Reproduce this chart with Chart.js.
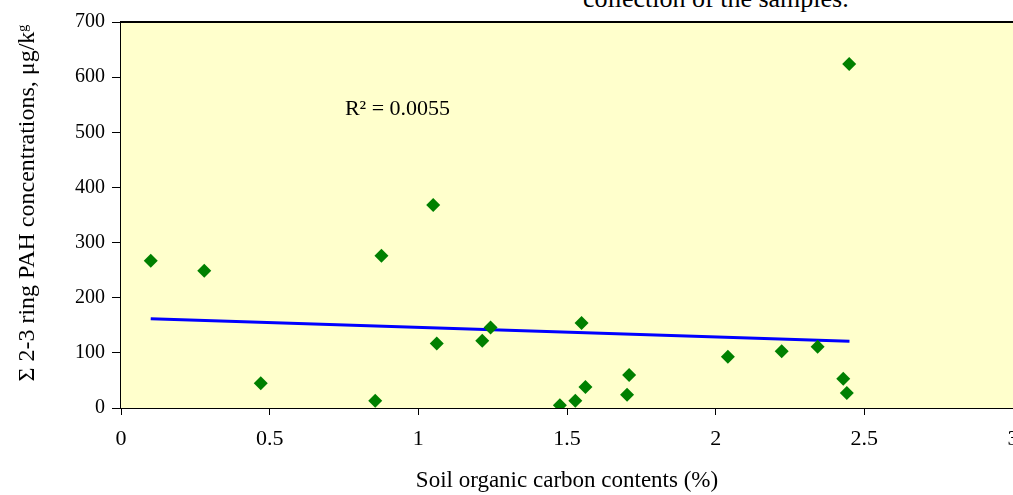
<!DOCTYPE html>
<html>
<head>
<meta charset="utf-8">
<script src="https://cdn.jsdelivr.net/npm/chart.js@4"></script>
<style>
  html, body { margin: 0; padding: 0; overflow: hidden; background: #fff; width: 1013px; height: 495px; }
  #wrap { position: relative; width: 1013px; height: 495px; overflow: hidden; }
  #cut { position: absolute; left: 583px; top: -16px; font: 26px "Liberation Serif", serif; color: #000; white-space: nowrap; }
  canvas { position: absolute; left: 0; top: 0; }
</style>
</head>
<body>
<div id="wrap">
  <div id="cut">collection of the samples.</div>
  <canvas id="pahChart" width="1060" height="495"></canvas>
</div>
<script>
// soil organic carbon (%) vs sum of 2-3 ring PAH (ug/kg)
var carbon = [0.10, 0.28, 0.47, 0.855, 0.876, 1.05, 1.062, 1.215, 1.243, 1.476, 1.528, 1.549, 1.562, 1.702, 1.709, 2.041, 2.222, 2.343, 2.429, 2.441, 2.449];
var pah    = [267, 249, 45, 13, 276, 368, 117, 122, 146, 5, 13, 154, 38, 24, 60, 93, 103, 111, 53, 27, 624];

// linear trend line end points
var trendX = [0.10, 2.45];
var trendY = [162, 121];
var rSquared = 'R\u00B2 = 0.0055';

var xTicks = [0, 0.5, 1, 1.5, 2, 2.5, 3];
var yTicks = [0, 100, 200, 300, 400, 500, 600, 700];

var serif = '"Liberation Serif", "Times New Roman", serif';

var scatterPts = carbon.map(function (c, i) { return { x: c, y: pah[i] }; });
var trendPts = trendX.map(function (t, i) { return { x: t, y: trendY[i] }; });

// yellow plot area, top border and the R2 label
var plotDeco = {
    id: 'plotDeco',
    beforeDatasetsDraw: function (chart) {
        var c = chart.ctx, a = chart.chartArea;
        c.save();
        c.fillStyle = '#FFFFCC';
        c.fillRect(a.left, a.top, a.right - a.left, a.bottom - a.top);
        c.strokeStyle = '#000';
        c.lineWidth = 2;
        c.beginPath();
        c.moveTo(a.left, a.top);
        c.lineTo(a.right, a.top);
        c.stroke();
        c.restore();
    },
    afterDatasetsDraw: function (chart) {
        var c = chart.ctx;
        var px = chart.scales.x.getPixelForValue(0.93);
        var py = chart.scales.y.getPixelForValue(531);
        c.save();
        c.fillStyle = '#000';
        c.font = '22px ' + serif;
        c.textAlign = 'center';
        c.textBaseline = 'alphabetic';
        c.fillText(rSquared, px, py);
        c.restore();
    }
};

var ctx = document.getElementById('pahChart').getContext('2d');
var pahChart = new Chart(ctx, {
    type: 'scatter',
    data: {
        datasets: [{
            label: 'samples',
            data: scatterPts,
            pointStyle: 'rectRot',
            pointRadius: 7,
            pointHoverRadius: 7,
            backgroundColor: '#008000',
            borderColor: '#008000',
            borderWidth: 0,
            order: 1
        }, {
            type: 'line',
            label: 'trend',
            data: trendPts,
            borderColor: '#0000FF',
            borderWidth: 3,
            pointRadius: 0,
            fill: false,
            order: 2
        }]
    },
    plugins: [plotDeco],
    options: {
        responsive: false,
        animation: false,
        layout: { padding: { top: 22, right: 47, left: 0, bottom: 0 } },
        plugins: {
            legend: { display: false },
            tooltip: { enabled: false }
        },
        scales: {
            x: {
                type: 'linear',
                min: 0,
                max: 3,
                afterBuildTicks: function (s) {
                    s.ticks = xTicks.map(function (v) { return { value: v }; });
                },
                afterFit: function (s) { s.height = 87; },
                border: { display: true, color: '#000', width: 2 },
                grid: { drawOnChartArea: false, drawTicks: true, tickLength: 7, color: '#000' },
                ticks: {
                    color: '#000',
                    font: { family: serif, size: 22 },
                    padding: 11,
                    callback: function (v) { return String(v); }
                },
                title: {
                    display: true,
                    text: 'Soil organic carbon contents (%)',
                    color: '#000',
                    font: { family: serif, size: 23 },
                    padding: { top: 0, bottom: 0 }
                }
            },
            y: {
                min: 0,
                max: 700,
                afterBuildTicks: function (s) {
                    s.ticks = yTicks.map(function (v) { return { value: v }; });
                },
                afterFit: function (s) { s.width = 121; },
                border: { display: true, color: '#000', width: 2 },
                grid: { drawOnChartArea: false, drawTicks: true, tickLength: 9, color: '#000' },
                ticks: { color: '#000', font: { family: serif, size: 20 }, padding: 7 },
                title: {
                    display: true,
                    text: '\u00A0\u00A0\u00A0\u00A0\u03A3 2-3 ring PAH concentrations, \u03BCg/k\u1D4D',
                    color: '#000',
                    font: { family: serif, size: 24 },
                    padding: { top: 13, bottom: 0 }
                }
            }
        }
    }
});
</script>
</body>
</html>
